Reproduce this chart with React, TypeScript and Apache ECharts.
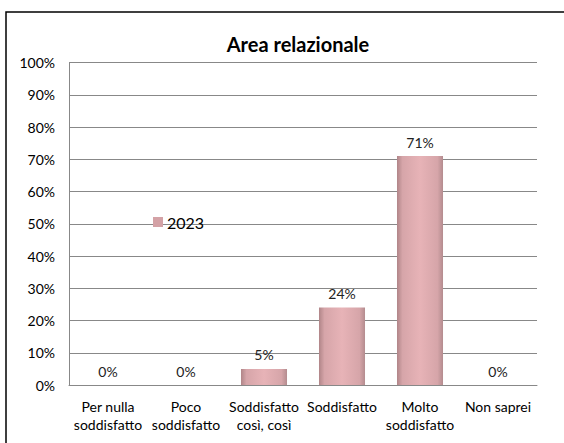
import React, { useEffect, useRef } from "react";
import * as echarts from "echarts";

const categories = [
  "Per nulla\nsoddisfatto",
  "Poco\nsoddisfatto",
  "Soddisfatto\ncosì, così",
  "Soddisfatto",
  "Molto\nsoddisfatto",
  "Non saprei",
];
const values2023 = [0, 0, 5, 24, 71, 0];
const seriesName = "2023";
const titleText = "Area relazionale";

export default function App() {
  const ref = useRef<HTMLDivElement>(null);
  useEffect(() => {
    if (!ref.current) return;
    const chart = echarts.init(ref.current, undefined, { renderer: "svg" });
    const font = "Lato, 'Open Sans', sans-serif";
    const barGradient = new echarts.graphic.LinearGradient(1, 0, 0, 0, [
      { offset: 0, color: "#b48c8f" },
      { offset: 0.12, color: "#d6a5a9" },
      { offset: 0.5, color: "#e7b3b7" },
      { offset: 0.88, color: "#d6a5a9" },
      { offset: 1, color: "#b08588" },
    ]);
    chart.setOption({
      animation: false,
      backgroundColor: "#ffffff",
      title: {
        text: titleText,
        left: 293,
        top: 29,
        textAlign: "center",
        textStyle: { fontFamily: font, fontSize: 20, fontWeight: "bold", color: "#000" },
      },
      legend: {
        left: 153,
        top: 214,
        itemWidth: 10,
        itemHeight: 10,
        itemGap: 5,
        icon: "rect",
        data: [{ name: seriesName, itemStyle: { color: "#d4a2a6" } }],
        textStyle: { fontFamily: font, fontSize: 16, color: "#000", padding: [0, 0, 0, -1] },
        padding: 0,
      },
      graphic: [
        {
          type: "rect",
          shape: { x: 6, y: 12, width: 620, height: 500 },
          style: { fill: "none", stroke: "#000", lineWidth: 1.5 },
          silent: true,
        },
      ],
      grid: { left: 69, right: 27, top: 62.5, bottom: 58, containLabel: false },
      xAxis: {
        type: "category",
        data: categories,
        axisLine: { show: true, lineStyle: { color: "#888", width: 1 } },
        axisTick: { show: false },
        axisLabel: {
          interval: 0,
          margin: 12,
          fontFamily: font,
          fontSize: 14,
          lineHeight: 18,
          color: "#000",
        },
      },
      yAxis: {
        type: "value",
        min: 0,
        max: 100,
        interval: 10,
        axisLine: { show: true, lineStyle: { color: "#888", width: 1 } },
        axisTick: { show: false },
        splitLine: { show: true, lineStyle: { color: "#888", width: 1 } },
        axisLabel: {
          margin: 14,
          fontFamily: font,
          fontSize: 14,
          color: "#000",
          formatter: "{value}%",
        },
      },
      series: [
        {
          name: seriesName,
          type: "bar",
          data: values2023,
          barWidth: "59%",
          itemStyle: { color: barGradient, borderWidth: 0 },
          label: {
            show: true,
            position: "top",
            distance: 7,
            formatter: "{c}%",
            fontFamily: font,
            fontSize: 14,
            color: "#222",
          },
        },
      ],
    });
    return () => chart.dispose();
  }, []);
  return (
    <div
      ref={ref}
      style={{ position: "fixed", left: 0, top: 0, width: 564, height: 443 }}
    />
  );
}
